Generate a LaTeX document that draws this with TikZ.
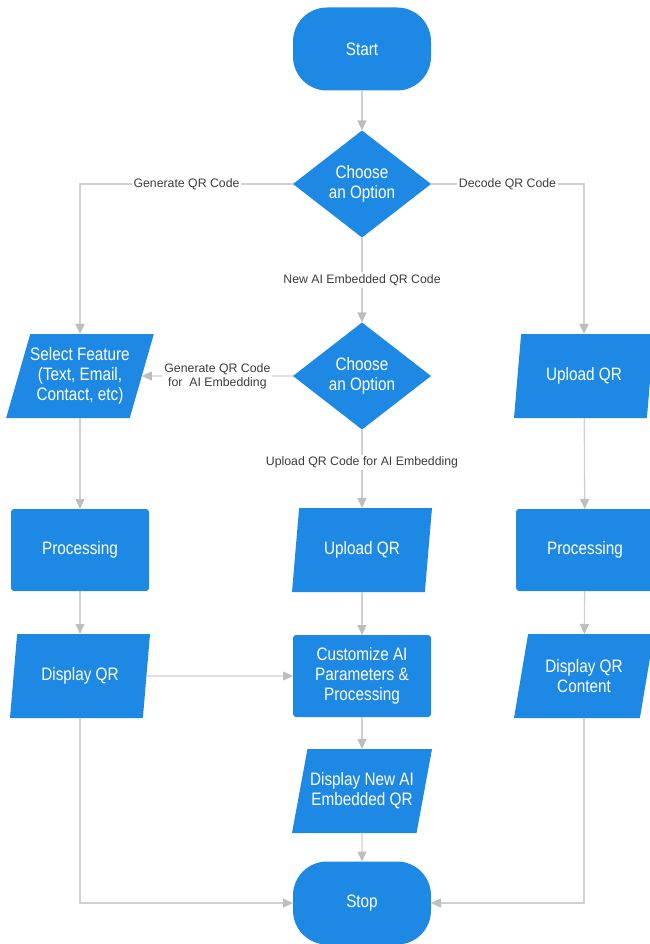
\documentclass[tikz,border=0pt]{standalone}
\usepackage{fontspec}
\setmainfont{Liberation Sans}
\newfontfamily\narrowfont[FakeStretch=0.85]{Liberation Sans}
\usepackage{xcolor}
\usepackage{tikz}
\usetikzlibrary{arrows.meta, positioning, shapes.geometric}
\definecolor{cblue}{RGB}{30,137,229}
\definecolor{cline}{RGB}{208,208,208}
\definecolor{ctip}{RGB}{190,190,190}
\definecolor{ctext}{RGB}{60,60,60}

\begin{document}
\begin{tikzpicture}[x=1pt, y=-1pt,
    >={Triangle[length=10pt, width=9pt, color=ctip]},
    base/.style={fill=cblue, text=white, font=\narrowfont\fontsize{18}{20}\selectfont, align=center, inner sep=0pt, outer sep=0pt},
    term/.style={base, rounded corners=34pt, minimum width=138pt, minimum height=83pt},
    choice/.style={base, diamond, aspect=1.29, minimum width=138pt, minimum height=107pt},
    proc/.style={base, rounded corners=3pt, minimum width=138pt, minimum height=82pt},
    io/.style={base, trapezium, trapezium left angle=67, trapezium right angle=113, trapezium stretches body, minimum width=140pt, minimum height=84pt},
    link/.style={draw=cline, line width=1.3pt},
    lab/.style={fill=white, text=ctext, font=\fontsize{12.3}{14}\selectfont, inner sep=2pt, align=center},
]
    \useasboundingbox (0,0) rectangle (649,944);

    % Top decision
    \node[term] (start) at (362,49) {Start};
    \node[choice] (opt1) at (362,184) {Choose\\an Option};

    % Second row
    \node[io] (feature) at (80,376) {Select Feature\\(Text, Email,\\Contact, etc)};
    \node[choice] (opt2) at (362,376) {Choose\\an Option};
    \node[io] (uplR) at (584,376) {Upload QR};

    % Third row
    \node[proc] (procL) at (80,550) {Processing};
    \node[io] (uplM) at (362,550) {Upload QR};
    \node[proc] (procR) at (585,550) {Processing};

    % Fourth row
    \node[io] (dispL) at (80,676) {Display QR};
    \node[proc] (custom) at (362,676) {Customize AI\\Parameters \&\\Processing};
    \node[io] (dispR) at (584,676) {Display QR\\Content};

    % Bottom
    \node[io] (dispNew) at (362,791) {Display New AI\\Embedded QR};
    \node[term] (stop) at (362,903) {Stop};

    % Connectors
    \draw[link, ->] (start) -- (opt1);
    \draw[link, ->] (opt1.west) -| node[lab, pos=0.25] {Generate QR Code} (feature);
    \draw[link, ->] (opt1.east) -| node[lab, pos=0.25] {Decode QR Code} (uplR);
    \draw[link, ->] (opt1) -- node[lab] {New AI Embedded QR Code} (opt2);
    \draw[link, ->] (opt2) -- node[lab] {Generate QR Code\\for\ \ AI Embedding} (feature);
    \draw[link, ->] (opt2) -- node[lab, pos=0.42] {Upload QR Code for AI Embedding} (uplM);

    \draw[link, ->] (feature) -- (procL);
    \draw[link, ->] (procL) -- (dispL);
    \draw[link, ->] (dispL) -- (custom);
    \draw[link, ->] (dispL) |- (stop);

    \draw[link, ->] (uplM) -- (custom);
    \draw[link, ->] (custom) -- (dispNew);
    \draw[link, ->] (dispNew) -- (stop);

    \draw[link, ->] (uplR) -- (procR);
    \draw[link, ->] (procR) -- (dispR);
    \draw[link, ->] (dispR) |- (stop);
\end{tikzpicture}
\end{document}
